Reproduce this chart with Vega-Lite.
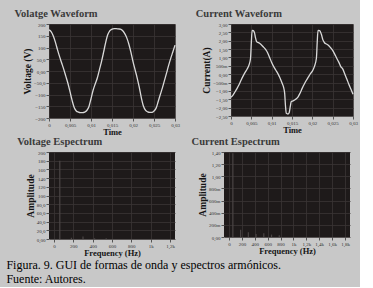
{
  "$schema": "https://vega.github.io/schema/vega-lite/v6.json",
  "background": "#c8c8c8",
  "padding": {"left": 6, "top": 8, "right": 2, "bottom": 2},
  "title": {
    "text": ["Figura. 9. GUI de formas de onda y espectros armónicos.", "Fuente: Autores."],
    "orient": "bottom", "anchor": "start", "font": "Liberation Serif", "fontSize": 12,
    "fontWeight": "normal", "color": "#000000", "offset": 3, "dx": -8, "lineHeight": 14
  },
  "datasets": {
    "voltage": [
      {"t": 0, "v": 175}, {"t": 0.0005, "v": 168}, {"t": 0.001, "v": 150}, {"t": 0.0015, "v": 124},
      {"t": 0.002, "v": 92}, {"t": 0.0025, "v": 62}, {"t": 0.003, "v": 35}, {"t": 0.0035, "v": 8},
      {"t": 0.004, "v": -22}, {"t": 0.0045, "v": -52}, {"t": 0.005, "v": -88}, {"t": 0.0055, "v": -125},
      {"t": 0.006, "v": -155}, {"t": 0.0065, "v": -170}, {"t": 0.007, "v": -175}, {"t": 0.0075, "v": -177},
      {"t": 0.008, "v": -177}, {"t": 0.0085, "v": -175}, {"t": 0.009, "v": -168}, {"t": 0.0095, "v": -152},
      {"t": 0.01, "v": -118}, {"t": 0.0105, "v": -82}, {"t": 0.011, "v": -55}, {"t": 0.0115, "v": -30},
      {"t": 0.012, "v": 5}, {"t": 0.0125, "v": 40}, {"t": 0.013, "v": 80}, {"t": 0.0135, "v": 122},
      {"t": 0.014, "v": 155}, {"t": 0.0145, "v": 172}, {"t": 0.015, "v": 178}, {"t": 0.0155, "v": 180},
      {"t": 0.016, "v": 180}, {"t": 0.0165, "v": 179}, {"t": 0.017, "v": 178}, {"t": 0.0175, "v": 172},
      {"t": 0.018, "v": 160}, {"t": 0.0185, "v": 142}, {"t": 0.019, "v": 115}, {"t": 0.0195, "v": 80},
      {"t": 0.02, "v": 40}, {"t": 0.0205, "v": 5}, {"t": 0.021, "v": -30}, {"t": 0.0215, "v": -70},
      {"t": 0.022, "v": -115}, {"t": 0.0225, "v": -150}, {"t": 0.023, "v": -168}, {"t": 0.0235, "v": -174},
      {"t": 0.024, "v": -176}, {"t": 0.0245, "v": -176}, {"t": 0.025, "v": -170}, {"t": 0.0255, "v": -158},
      {"t": 0.026, "v": -130}, {"t": 0.0265, "v": -100}, {"t": 0.027, "v": -72}, {"t": 0.0275, "v": -40},
      {"t": 0.028, "v": -8}, {"t": 0.0285, "v": 25}, {"t": 0.029, "v": 55}, {"t": 0.0295, "v": 82},
      {"t": 0.03, "v": 110}
    ],
    "current": [
      {"t": 0, "i": -1.38}, {"t": 0.0005, "i": -1.25}, {"t": 0.001, "i": -1.05}, {"t": 0.0015, "i": -0.85},
      {"t": 0.002, "i": -0.62}, {"t": 0.0025, "i": -0.35}, {"t": 0.003, "i": -0.1}, {"t": 0.0035, "i": 0.12},
      {"t": 0.004, "i": 0.32}, {"t": 0.0045, "i": 0.6}, {"t": 0.0048, "i": 0.95}, {"t": 0.005, "i": 1.9},
      {"t": 0.0052, "i": 2.62}, {"t": 0.0055, "i": 2.6}, {"t": 0.0058, "i": 2.45}, {"t": 0.006, "i": 2.2},
      {"t": 0.0063, "i": 1.95}, {"t": 0.007, "i": 1.85}, {"t": 0.0075, "i": 1.75}, {"t": 0.008, "i": 1.62},
      {"t": 0.0085, "i": 1.48}, {"t": 0.009, "i": 1.28}, {"t": 0.0095, "i": 1.0}, {"t": 0.01, "i": 0.7},
      {"t": 0.0105, "i": 0.45}, {"t": 0.011, "i": 0.25}, {"t": 0.0115, "i": 0.05}, {"t": 0.012, "i": -0.2},
      {"t": 0.0125, "i": -0.5}, {"t": 0.013, "i": -0.85}, {"t": 0.0132, "i": -1.15}, {"t": 0.0134, "i": -1.9},
      {"t": 0.0136, "i": -2.34}, {"t": 0.014, "i": -2.38}, {"t": 0.0143, "i": -2.3}, {"t": 0.0146, "i": -1.9},
      {"t": 0.0148, "i": -1.65}, {"t": 0.0152, "i": -1.6}, {"t": 0.016, "i": -1.48}, {"t": 0.0165, "i": -1.35},
      {"t": 0.017, "i": -1.12}, {"t": 0.0175, "i": -0.85}, {"t": 0.018, "i": -0.6}, {"t": 0.0185, "i": -0.38},
      {"t": 0.019, "i": -0.18}, {"t": 0.0195, "i": 0.02}, {"t": 0.02, "i": 0.18}, {"t": 0.0205, "i": 0.45},
      {"t": 0.021, "i": 0.95}, {"t": 0.0212, "i": 1.9}, {"t": 0.0214, "i": 2.62}, {"t": 0.0218, "i": 2.6},
      {"t": 0.0222, "i": 2.4}, {"t": 0.0226, "i": 2.05}, {"t": 0.023, "i": 1.88}, {"t": 0.0235, "i": 1.8},
      {"t": 0.024, "i": 1.72}, {"t": 0.0245, "i": 1.58}, {"t": 0.025, "i": 1.42}, {"t": 0.0255, "i": 1.2},
      {"t": 0.026, "i": 0.95}, {"t": 0.0265, "i": 0.72}, {"t": 0.027, "i": 0.45}, {"t": 0.0275, "i": 0.3},
      {"t": 0.028, "i": 0.0}, {"t": 0.0285, "i": -0.3}, {"t": 0.029, "i": -0.62}, {"t": 0.0295, "i": -0.9},
      {"t": 0.03, "i": -1.2}
    ],
    "vspec": [
      {"f": 60, "a": 180}, {"f": 180, "a": 3}, {"f": 300, "a": 6}, {"f": 420, "a": 2}, {"f": 540, "a": 1.5}
    ],
    "ispec": [
      {"f": 60, "a": 1.38}, {"f": 180, "a": 0.12}, {"f": 300, "a": 0.08}, {"f": 420, "a": 0.05},
      {"f": 540, "a": 0.06}, {"f": 660, "a": 0.04}, {"f": 780, "a": 0.03}
    ]
  },
  "config": {
    "view": {"fill": "#1e1a1a", "stroke": null},
    "axis": {
      "labelFont": "Liberation Serif", "labelFontSize": 5, "labelColor": "#333333",
      "labelFlush": false, "labelOverlap": false, "labelBound": false, "labelPadding": 1, "labelAngle": 0,
      "titleFont": "Liberation Serif", "titleFontWeight": "bold", "titleColor": "#151515",
      "gridColor": "#3a3535", "gridWidth": 0.8, "tickColor": "#555555", "tickSize": 3, "domain": false
    },
    "axisX": {"titleFontSize": 8.5, "titlePadding": 0},
    "axisY": {"titleFontSize": 9.5, "titlePadding": 1},
    "title": {"font": "Liberation Serif", "fontSize": 10.5, "fontWeight": "bold", "color": "#3a3a3a", "anchor": "start", "offset": 3, "dx": -8}
  },
  "spacing": 0,
  "vconcat": [
    {
      "spacing": 15,
      "hconcat": [
        {
          "title": "Volatge Waveform",
          "width": 126, "height": 94,
          "data": {"name": "voltage"},
          "mark": {"type": "line", "color": "#d9d9d9", "strokeWidth": 1.3, "interpolate": "monotone"},
          "encoding": {
            "x": {"field": "t", "type": "quantitative", "scale": {"domain": [0, 0.03], "nice": false},
              "axis": {"title": "Time", "values": [0, 0.005, 0.01, 0.015, 0.02, 0.025, 0.03],
                "labelExpr": "datum.value == 0 ? '0' : replace(toString(datum.value), '.', ',')"}},
            "y": {"field": "v", "type": "quantitative", "scale": {"domain": [-200, 200], "nice": false},
              "axis": {"title": "Voltage (V)", "values": [-200, -150, -100, -50, 0, 50, 100, 150, 200],
                "labelExpr": "datum.value == 0 ? '0,00' : abs(datum.value) < 100 ? replace(format(datum.value, '.1f'), '.', ',') : format(datum.value, 'd')"}}
          }
        },
        {
          "title": {"text": "Current Waveform", "dx": -6},
          "width": 122, "height": 92,
          "data": {"name": "current"},
          "mark": {"type": "line", "color": "#d9d9d9", "strokeWidth": 1.3, "interpolate": "monotone"},
          "encoding": {
            "x": {"field": "t", "type": "quantitative", "scale": {"domain": [0, 0.03], "nice": false},
              "axis": {"title": "Time", "values": [0, 0.005, 0.01, 0.015, 0.02, 0.025, 0.03],
                "labelExpr": "datum.value == 0 ? '0' : replace(toString(datum.value), '.', ',')"}},
            "y": {"field": "i", "type": "quantitative", "scale": {"domain": [-2.5, 3], "nice": false},
              "axis": {"title": "Current(A)", "values": [-2.5, -2, -1.5, -1, -0.5, 0, 0.5, 1, 1.5, 2, 2.5, 3],
                "labelExpr": "datum.value == 0 ? '0,00' : abs(datum.value) < 1 ? format(datum.value * 1000, 'd') + 'm' : replace(format(datum.value, '.2f'), '.', ',')"}}
          }
        }
      ]
    },
    {
      "spacing": 16,
      "hconcat": [
        {
          "title": "Voltage Espectrum",
          "width": 126, "height": 87,
          "data": {"name": "vspec"},
          "mark": {"type": "bar", "color": "#4a4545", "size": 1.2},
          "encoding": {
            "x": {"field": "f", "type": "quantitative", "scale": {"domain": [0, 1200], "nice": false},
              "axis": {"title": "Frequency (Hz)", "values": [0, 200, 400, 600, 800, 1000, 1200],
                "labelExpr": "datum.value < 1000 ? toString(datum.value) : datum.value == 1000 ? '1k' : '1,' + toString((datum.value - 1000) / 100) + 'k'"}},
            "y": {"field": "a", "type": "quantitative", "scale": {"domain": [0, 200], "nice": false},
              "axis": {"title": "Amplitude", "values": [0, 20, 40, 60, 80, 100, 120, 140, 160, 180, 200],
                "labelExpr": "datum.value == 0 ? '0,00' : datum.value < 100 ? replace(format(datum.value, '.1f'), '.', ',') : format(datum.value, 'd')"}}
          }
        },
        {
          "title": {"text": "Current Espectrum", "dx": -6},
          "width": 126, "height": 85,
          "data": {"name": "ispec"},
          "mark": {"type": "bar", "color": "#4a4545", "size": 1.2},
          "encoding": {
            "x": {"field": "f", "type": "quantitative", "scale": {"domain": [0, 1800], "nice": false},
              "axis": {"title": "Frequency (Hz)", "values": [0, 200, 400, 600, 800, 1000, 1200, 1400, 1600, 1800],
                "labelExpr": "datum.value < 1000 ? toString(datum.value) : datum.value == 1000 ? '1k' : '1,' + toString((datum.value - 1000) / 100) + 'k'"}},
            "y": {"field": "a", "type": "quantitative", "scale": {"domain": [0, 1.4], "nice": false},
              "axis": {"title": "Amplitude", "values": [0, 0.2, 0.4, 0.6, 0.8, 1, 1.2, 1.4],
                "labelExpr": "datum.value == 0 ? '0,00' : datum.value < 1 ? format(datum.value * 1000, 'd') + 'm' : replace(format(datum.value, '.2f'), '.', ',')"}}
          }
        }
      ]
    }
  ]
}
